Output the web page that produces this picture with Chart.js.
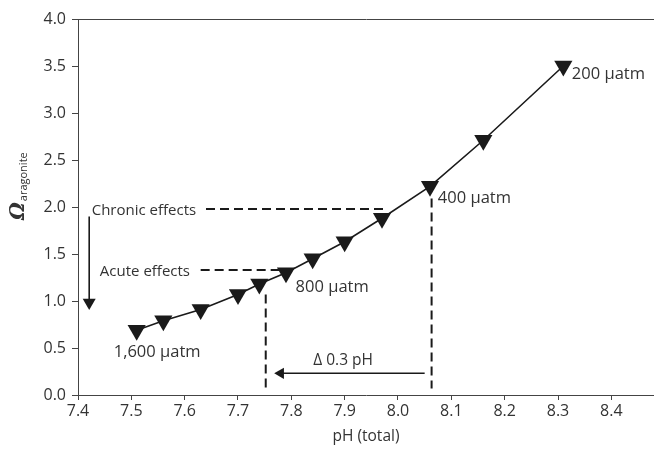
<!DOCTYPE html>
<html>
<head>
<meta charset="utf-8">
<script src="https://cdn.jsdelivr.net/npm/chart.js@4.4.1/dist/chart.umd.min.js"></script>
<style>
html,body{margin:0;padding:0;background:#fff;}
#wrap{width:654px;height:449px;}
</style>
</head>
<body>
<div id="wrap"><canvas id="omegaChart"></canvas></div>
<script>
// values
const phValues=[7.51,7.56,7.63,7.70,7.74,7.79,7.84,7.90,7.97,8.06,8.16,8.31];
const omegaValues=[0.69,0.79,0.91,1.07,1.18,1.30,1.45,1.63,1.88,2.22,2.71,3.50];
const xTickValues=[7.4,7.5,7.6,7.7,7.8,7.9,8.0,8.1,8.2,8.3,8.4];
const yTickValues=[0,0.5,1,1.5,2,2.5,3,3.5,4];

// guide lines, pairs of [pH, omega]
const chronicLevel=[[7.64,1.98],[7.98,1.98]];
const chronicDrop=[[8.063,2.09],[8.063,0.07]];
const acuteLevel=[[7.63,1.33],[7.78,1.33]];
const acuteDrop=[[7.752,1.07],[7.752,0.07]];
const downArrow=[[7.421,1.90],[7.421,0.984]];
const deltaArrow=[[8.05,0.231],[7.78,0.231]];

// text notes: text, pH, omega
const noteTexts=['Chronic effects','Acute effects','1,600 \u03bcatm','800 \u03bcatm','400 \u03bcatm','200 \u03bcatm','\u0394 0.3 pH'];
const notePh=[7.4257,7.441,7.467,7.808,8.0747,8.326,7.841];
const noteOmega=[1.915,1.266,0.404,1.099,2.04,3.36,0.319];
const noteSize=[15,15,16.5,16.5,16.5,16.5,15.5];

function pts(arr){
return arr.map(p=>({x:p[0],y:p[1]}));
}

const ink='#1a1a1a';
const textColor='#333';

function dashed(arr){
return {
data:pts(arr),
showLine:true,
borderColor:ink,
borderWidth:2,
borderDash:[9,5],
pointRadius:0
};
}

const notesPlugin={
id:'notes',
afterDatasetsDraw(chart){
const ctx=chart.ctx;
const xs=chart.scales.x;
const ys=chart.scales.y;
ctx.save();
ctx.fillStyle=textColor;
ctx.textBaseline='alphabetic';
ctx.textAlign='left';
noteTexts.forEach((t,i)=>{
ctx.font=noteSize[i]+'px "Open Sans"';
ctx.fillText(t,xs.getPixelForValue(notePh[i]),ys.getPixelForValue(noteOmega[i]));
});
// y axis title with subscript
ctx.translate(24,220);
ctx.rotate(-Math.PI/2);
ctx.font='italic bold 20px "DejaVu Serif"';
ctx.fillText('\u03a9',0,0);
const w=ctx.measureText('\u03a9').width;
ctx.font='11px "Open Sans"';
ctx.fillText('aragonite',w+1,3);
ctx.restore();
}
};

new Chart(
document.getElementById('omegaChart'),
{
type:'scatter',
data:{
datasets:[
{
data:phValues.map((v,i)=>({x:v,y:omegaValues[i]})),
showLine:true,
borderColor:ink,
borderWidth:1.6,
backgroundColor:ink,
pointBackgroundColor:ink,
pointBorderColor:ink,
pointBorderWidth:0,
pointStyle:'triangle',
rotation:180,
pointRadius:10.5
},
dashed(chronicLevel),
dashed(chronicDrop),
dashed(acuteLevel),
dashed(acuteDrop),
{
data:pts(downArrow),
showLine:true,
borderColor:ink,
borderWidth:1.6,
pointBackgroundColor:ink,
pointBorderWidth:0,
pointStyle:'triangle',
rotation:180,
pointRadius:[0,7.5]
},
{
data:pts(deltaArrow),
showLine:true,
borderColor:ink,
borderWidth:1.6,
pointBackgroundColor:ink,
pointBorderWidth:0,
pointStyle:'triangle',
rotation:270,
pointRadius:[0,6.5]
}
]
},
options:{
responsive:true,
maintainAspectRatio:false,
animation:false,
events:[],
layout:{autoPadding:false,padding:{top:19,right:0,left:0,bottom:0}},
plugins:{legend:{display:false},tooltip:{enabled:false}},
scales:{
x:{
type:'linear',
min:7.4,
max:8.48,
afterBuildTicks(scale){
scale.ticks=xTickValues.map(v=>({value:v}));
},
afterFit(scale){scale.height=54;},
grid:{display:true,drawOnChartArea:false,drawTicks:true,tickLength:5,color:'#444'},
border:{display:true,color:'#444',width:1},
ticks:{
color:textColor,
padding:2,
font:{family:'Open Sans',size:16},
callback:v=>v.toFixed(1),
maxRotation:0,
autoSkip:false
},
title:{
display:true,
text:'pH (total)',
color:textColor,
font:{family:'Open Sans',size:15.5},
padding:{top:0,bottom:3}
}
},
x2:{
type:'linear',
position:'top',
min:7.4,
max:8.48,
afterFit(scale){scale.height=0;},
grid:{display:false,drawTicks:false},
border:{display:true,color:'#444',width:1},
ticks:{display:false}
},
y:{
type:'linear',
min:0,
max:4,
afterBuildTicks(scale){
scale.ticks=yTickValues.map(v=>({value:v}));
},
afterFit(scale){scale.width=78;},
grid:{display:true,drawOnChartArea:false,drawTicks:true,tickLength:6,color:'#444'},
border:{display:true,color:'#444',width:1},
ticks:{
color:textColor,
padding:6,
font:{family:'Open Sans',size:16},
callback:v=>v.toFixed(1)
}
}
}
},
plugins:[notesPlugin]
}
);
</script>
</body>
</html>
